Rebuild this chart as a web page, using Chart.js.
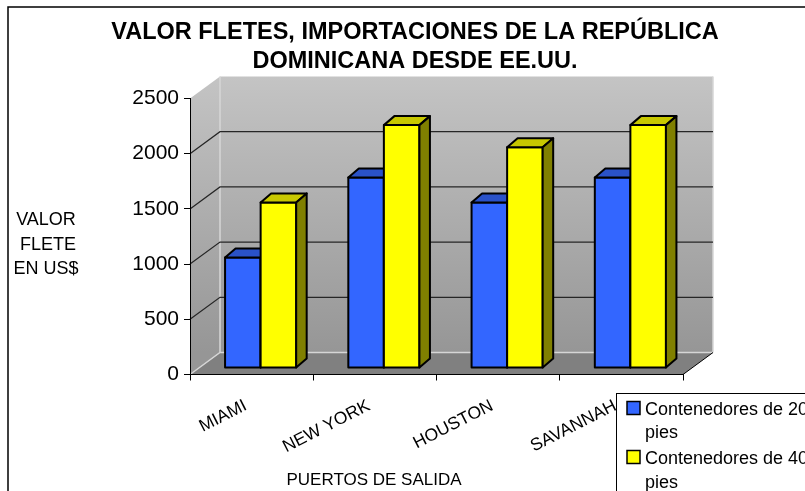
<!DOCTYPE html>
<html><head><meta charset="utf-8">
<script src="https://cdn.jsdelivr.net/npm/chart.js@4.4.0/dist/chart.umd.min.js"></script>
<style>html,body{margin:0;padding:0;background:#fff;overflow:hidden}canvas{display:block}</style>
</head><body>
<canvas id="c" width="805" height="491"></canvas>
<script>
const categories = ['MIAMI', 'NEW YORK', 'HOUSTON', 'SAVANNAH'];
const seriesNames = ['Contenedores de 20 pies', 'Contenedores de 40 pies'];
const cont20 = [1000, 1725, 1500, 1725];
const cont40 = [1500, 2200, 2000, 2200];
const yTicks = [0, 500, 1000, 1500, 2000, 2500];
const titleLines = ['VALOR FLETES, IMPORTACIONES DE LA REPÚBLICA', 'DOMINICANA DESDE EE.UU.'];
const yTitleLines = ['VALOR', 'FLETE', 'EN US$'];
const xTitle = 'PUERTOS DE SALIDA';

const FONT = '"Liberation Sans", Arial, sans-serif';
const WALL = {dx: 30, dy: -22};
const BARPOS = {dx: 9, dy: -6.5};
const BARD = {dx: 10.5, dy: -9};
const faces = [
  {front: '#3366FF', top: '#2A52C8', side: '#1F3D99'},
  {front: '#FFFF00', top: '#C8C800', side: '#808000'}
];

const plugin3d = {
  id: 'excel3d',
  beforeDraw(chart) {
    const ctx = chart.ctx, a = chart.chartArea, ys = chart.scales.y;
    const L = a.left, R = a.right, T = a.top, B = a.bottom, dx = WALL.dx, dy = WALL.dy;
    ctx.save();
    ctx.fillStyle = '#fff';
    ctx.fillRect(0, 0, chart.width, chart.height);
    const g = ctx.createLinearGradient(0, T + dy, 0, B + dy);
    g.addColorStop(0, '#c4c4c4');
    g.addColorStop(1, '#969696');
    ctx.fillStyle = g;
    ctx.fillRect(L + dx, T + dy, R - L, B - T);
    ctx.beginPath();
    ctx.moveTo(L, T); ctx.lineTo(L + dx, T + dy); ctx.lineTo(L + dx, B + dy); ctx.lineTo(L, B);
    ctx.closePath(); ctx.fill();
    ctx.fillStyle = '#808080';
    ctx.beginPath();
    ctx.moveTo(L, B); ctx.lineTo(L + dx, B + dy); ctx.lineTo(R + dx, B + dy); ctx.lineTo(R, B);
    ctx.closePath(); ctx.fill();
    ctx.strokeStyle = '#d6d6d6'; ctx.lineWidth = 1.5;
    ctx.beginPath();
    ctx.moveTo(L, B); ctx.lineTo(L + dx, B + dy); ctx.lineTo(R + dx, B + dy);
    ctx.moveTo(L + dx, B + dy); ctx.lineTo(L + dx, T + dy);
    ctx.moveTo(R + dx, T + dy); ctx.lineTo(R + dx, B + dy);
    ctx.stroke();
    ctx.strokeStyle = '#262626'; ctx.lineWidth = 1.2;
    yTicks.forEach(v => {
      if (v <= ys.min || v >= ys.max) return;
      const py = ys.getPixelForValue(v);
      ctx.beginPath();
      ctx.moveTo(L, py); ctx.lineTo(L + dx, py + dy); ctx.lineTo(R + dx, py + dy);
      ctx.stroke();
    });
    ctx.strokeStyle = '#000'; ctx.lineWidth = 1;
    ctx.beginPath(); ctx.moveTo(R, B); ctx.lineTo(R + dx, B + dy); ctx.stroke();
    ctx.strokeStyle = '#000'; ctx.lineWidth = 1.5;
    ctx.beginPath(); ctx.moveTo(8, chart.height); ctx.lineTo(8, 7); ctx.lineTo(chart.width, 7); ctx.stroke();
    ctx.restore();
  },
  beforeDatasetsDraw(chart) {
    const ctx = chart.ctx;
    const metas = chart.data.datasets.map((d, i) => chart.getDatasetMeta(i));
    ctx.save();
    ctx.lineWidth = 2; ctx.lineJoin = 'round'; ctx.strokeStyle = '#000';
    for (let j = 0; j < categories.length; j++) {
      metas.forEach((m, i) => {
        const p = m.data[j].getProps(['x', 'y', 'base', 'width'], true);
        const x0 = p.x - p.width / 2 + BARPOS.dx, x1 = p.x + p.width / 2 + BARPOS.dx;
        const yt = p.y + BARPOS.dy, yb = p.base + BARPOS.dy;
        const f = faces[i];
        ctx.fillStyle = f.front;
        ctx.beginPath(); ctx.rect(x0, yt, x1 - x0, yb - yt); ctx.fill(); ctx.stroke();
        ctx.fillStyle = f.top;
        ctx.beginPath();
        ctx.moveTo(x0, yt); ctx.lineTo(x0 + BARD.dx, yt + BARD.dy); ctx.lineTo(x1 + BARD.dx, yt + BARD.dy); ctx.lineTo(x1, yt);
        ctx.closePath(); ctx.fill(); ctx.stroke();
        ctx.fillStyle = f.side;
        ctx.beginPath();
        ctx.moveTo(x1, yt); ctx.lineTo(x1 + BARD.dx, yt + BARD.dy); ctx.lineTo(x1 + BARD.dx, yb + BARD.dy); ctx.lineTo(x1, yb);
        ctx.closePath(); ctx.fill(); ctx.stroke();
      });
    }
    ctx.restore();
    return false;
  },
  afterDraw(chart) {
    const ctx = chart.ctx;
    ctx.save();
    ctx.fillStyle = '#000';
    ctx.textAlign = 'center'; ctx.textBaseline = 'middle';
    ctx.font = 'bold 23.5px ' + FONT;
    ctx.fillText(titleLines[0], 415, 33);
    ctx.fillText(titleLines[1], 415, 62);
    ctx.font = '18px ' + FONT;
    ctx.fillText(yTitleLines[0], 46, 220);
    ctx.fillText(yTitleLines[1], 48, 245);
    ctx.fillText(yTitleLines[2], 46, 269);
    ctx.font = '17px ' + FONT;
    ctx.fillText(xTitle, 374, 480);
    ctx.fillStyle = '#fff'; ctx.strokeStyle = '#000'; ctx.lineWidth = 1;
    ctx.fillRect(616.5, 393.5, 300, 200);
    ctx.strokeRect(616.5, 393.5, 300, 200);
    ctx.font = '18px ' + FONT;
    ctx.textAlign = 'left';
    const lineY = [[410, 433], [459, 483]];
    chart.data.datasets.forEach((ds, i) => {
      ctx.fillStyle = faces[i].front; ctx.lineWidth = 1.5;
      ctx.fillRect(627, lineY[i][0] - 8.5, 13, 13);
      ctx.strokeRect(627, lineY[i][0] - 8.5, 13, 13);
      const words = ds.label.split(' ');
      const lines = []; let cur = '';
      words.forEach(w => {
        const t = cur ? cur + ' ' + w : w;
        if (ctx.measureText(t).width > 172 && cur) { lines.push(cur); cur = w; } else cur = t;
      });
      lines.push(cur);
      ctx.fillStyle = '#000';
      lines.forEach((ln, k) => ctx.fillText(ln, 645, lineY[i][k]));
    });
    ctx.restore();
  }
};

new Chart(document.getElementById('c'), {
  type: 'bar',
  data: {
    labels: categories,
    datasets: [
      {label: seriesNames[0], data: cont20, backgroundColor: faces[0].front},
      {label: seriesNames[1], data: cont40, backgroundColor: faces[1].front}
    ]
  },
  options: {
    responsive: false,
    animation: false,
    events: [],
    layout: {padding: {left: 0, right: 122, top: 98.5, bottom: 0}},
    datasets: {bar: {categoryPercentage: 0.577, barPercentage: 1}},
    plugins: {legend: {display: false}, title: {display: false}, tooltip: {enabled: false}},
    scales: {
      x: {
        grid: {drawOnChartArea: false, tickLength: 6, color: '#000', offset: true},
        border: {display: true, color: '#000', width: 1},
        ticks: {color: '#000', font: {family: FONT, size: 17.5}, maxRotation: 27, minRotation: 27, padding: 15, labelOffset: -6, autoSkip: false},
        afterFit(s) { s.height = 116.5; }
      },
      y: {
        min: 0, max: 2500,
        afterBuildTicks(s) { s.ticks = yTicks.map(v => ({value: v})); },
        grid: {drawOnChartArea: false, tickLength: 6, color: '#000'},
        border: {display: true, color: '#000', width: 1},
        ticks: {color: '#000', font: {family: FONT, size: 21}, padding: 5, callback: v => String(v)},
        afterFit(s) { s.width = 190; }
      }
    }
  },
  plugins: [plugin3d]
});
</script>
</body></html>
